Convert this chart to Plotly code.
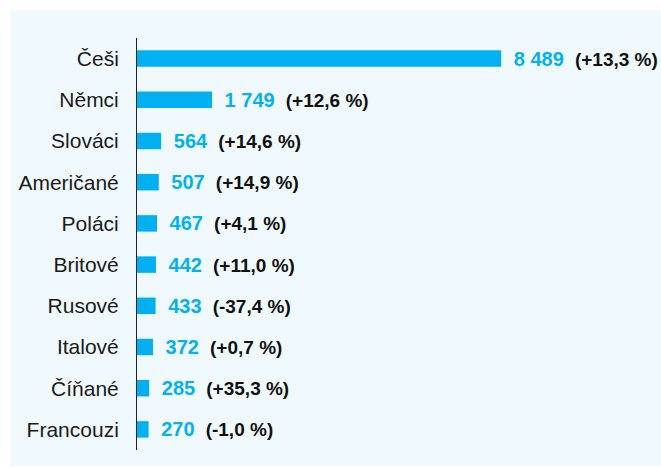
import plotly.graph_objects as go

categories = ["Češi", "Němci", "Slováci", "Američané", "Poláci", "Britové",
              "Rusové", "Italové", "Číňané", "Francouzi"]
values = [8489, 1749, 564, 507, 467, 442, 433, 372, 285, 270]
value_labels = ["8 489", "1 749", "564", "507", "467", "442", "433", "372", "285", "270"]
changes = ["(+13,3 %)", "(+12,6 %)", "(+14,6 %)", "(+14,9 %)", "(+4,1 %)",
           "(+11,0 %)", "(-37,4 %)", "(+0,7 %)", "(+35,3 %)", "(-1,0 %)"]

BAR = "#00B0F0"
BG = "#F0FAFE"

texts = [
    f"\u00a0\u2009<span style='color:{BAR};font-size:20px'><b>{v}</b></span>"
    f"\u00a0\u00a0<span style='color:#111111;font-size:19px'><b>{c}</b></span>"
    for v, c in zip(value_labels, changes)
]

fig = go.Figure(go.Bar(
    y=categories, x=values, orientation="h",
    marker=dict(color=BAR, line=dict(width=0)),
    text=texts, textposition="outside", cliponaxis=False, constraintext="none",
    textfont=dict(family="Liberation Sans, Arial, sans-serif", size=20, color=BAR),
    width=0.4,
))

W, H = 661, 468
ml, mr, mt, mb = 137, 95, 38, 18
pw = W - ml - mr
ph = H - mt - mb

fig.add_shape(type="rect", xref="paper", yref="paper",
              x0=(10 - ml) / pw, x1=(W - ml) / pw,
              y0=(H - mb - 466) / ph, y1=(H - mb - 10) / ph,
              fillcolor=BG, line=dict(width=0), layer="below")

fig.update_layout(
    width=W, height=H,
    margin=dict(l=ml, r=mr, t=mt, b=mb, autoexpand=False),
    paper_bgcolor="white", plot_bgcolor="rgba(0,0,0,0)",
    font=dict(family="Liberation Sans, Arial, sans-serif", size=20, color="#1a1a1a"),
    showlegend=False,
    xaxis=dict(range=[0, 10000], visible=False, showgrid=False, zeroline=False),
    yaxis=dict(autorange="reversed", showline=True, linecolor="#222222", linewidth=1,
               showgrid=False, ticks="", ticklabelstandoff=13, automargin=False,
               tickfont=dict(size=21, color="#1a1a1a")),
)

fig.write_html("out.html", config={"displayModeBar": False},
               post_script="document.body.style.margin='0';document.body.style.padding='0';")
